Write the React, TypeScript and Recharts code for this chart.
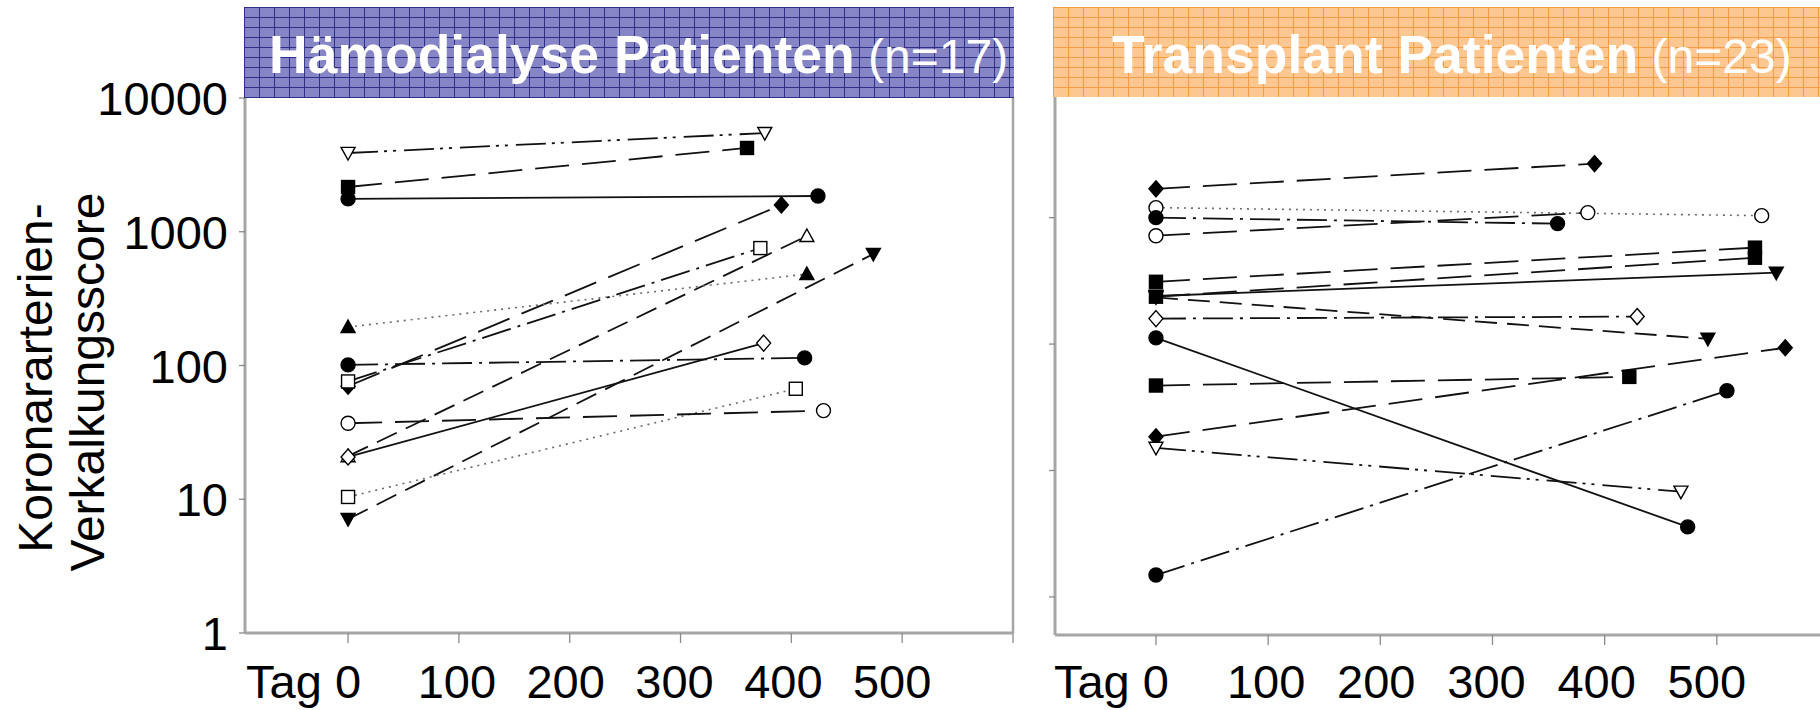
import React from 'react';
import { LineChart, Line, XAxis, YAxis, ReferenceLine } from 'recharts';

const FONT = '"Liberation Sans", Arial, Helvetica, sans-serif';

// ---------- Hämodialyse Patienten (left panel) ----------
const hdBaselineScore = [3880, 2160, 1760, 70, 21, 76, 7.1, 194, 20.7, 101, 10.4, 37];
const hdFollowUpDay = [376, 360, 424, 391, 414, 372, 474, 414, 375, 412, 404, 429];
const hdFollowUpScore = [5470, 4230, 1850, 1585, 930, 755, 682, 483, 147, 114, 67, 46];
const hdShape = ['triDown', 'square', 'circle', 'diamond', 'triUp', 'square', 'triDown', 'triUp', 'diamond', 'circle', 'square', 'circle'];
const hdFilled = [false, true, true, true, false, false, true, true, false, true, false, false];
const hdDash = ['dashDotDot', 'long', 'solid', 'long', 'dash', 'dashDot', 'dash', 'dot', 'solid', 'dashDot', 'dot', 'long'];

// ---------- Transplant Patienten (right panel) ----------
const txBaselineScore = [1690, 1200, 720, 1000, 311, 237, 240, 234, 159, 112, 47, 18.5, 15.1, 1.49];
const txFollowUpDay = [391, 540, 385, 358, 534, 534, 553, 492, 429, 474, 422, 561, 468, 509];
const txFollowUpScore = [2675, 1037, 1096, 897, 579, 482, 367, 110, 165, 3.58, 55, 93.5, 6.8, 42.7];
const txShape = ['diamond', 'circle', 'circle', 'circle', 'square', 'square', 'triDown', 'triDown', 'diamond', 'circle', 'square', 'diamond', 'triDown', 'circle'];
const txFilled = [true, false, false, true, true, true, true, true, false, true, true, true, false, true];
const txDash = ['long', 'dot', 'long', 'dashDot', 'long', 'long', 'solid', 'dash', 'dashDot', 'solid', 'long', 'long', 'dashDotDot', 'dashDot'];

// ---------- axes ----------
const xTicks = [0, 100, 200, 300, 400, 500, 600];
const xTickLabels = ['Tag 0', '100', '200', '300', '400', '500', ''];
const yTicksLeft = [1, 10, 100, 1000, 10000];
const yTickLabelsLeft = ['1', '10', '100', '1000', '10000'];
const yTicksRight = [1, 10, 100, 1000];

const titleLeft = 'Hämodialyse Patienten';
const titleLeftN = '(n=17)';
const titleRight = 'Transplant Patienten';
const titleRightN = '(n=23)';
const yTitle1 = 'Koronararterien-';
const yTitle2 = 'Verkalkungsscore';

const DASH: Record<string, string | undefined> = {
  solid: undefined,
  long: '34 13',
  dash: '22 10',
  dot: '2 5',
  dashDot: '30 7 3 7',
  dashDotDot: '30 6 3 6 3 8',
};

function buildSeries(base: number[], days: number[], follow: number[]) {
  return base.map((b, i) => [
    { x: 0, y: b },
    { x: days[i], y: follow[i] },
  ]);
}

function Marker(props: any) {
  const { cx, cy, shape, filled } = props;
  if (cx == null || cy == null || isNaN(cx) || isNaN(cy)) return <g />;
  const s = 7;
  const common = { fill: filled ? '#000' : '#fff', stroke: '#000', strokeWidth: 1.4 };
  switch (shape) {
    case 'circle':
      return <circle cx={cx} cy={cy} r={s} {...common} />;
    case 'square':
      return <rect x={cx - s + 0.5} y={cy - s + 0.5} width={2 * s - 1} height={2 * s - 1} {...common} />;
    case 'diamond':
      return <polygon points={`${cx},${cy - s - 1} ${cx + s},${cy} ${cx},${cy + s + 1} ${cx - s},${cy}`} {...common} />;
    case 'triUp':
      return <polygon points={`${cx},${cy - s} ${cx + s},${cy + s * 0.8} ${cx - s},${cy + s * 0.8}`} {...common} />;
    case 'triDown':
    default:
      return <polygon points={`${cx},${cy + s} ${cx + s},${cy - s * 0.8} ${cx - s},${cy - s * 0.8}`} {...common} />;
  }
}

function makeXTick(offset: number) {
  return (props: any) => {
    const { x, y, payload } = props;
    const idx = xTicks.indexOf(payload.value);
    const label = idx >= 0 ? xTickLabels[idx] : '';
    if (!label) return <g />;
    const shift = -payload.value / 50;
    if (payload.value === 0) {
      return (
        <text x={x + 13} y={y + offset} textAnchor="end" fontFamily={FONT} fontSize={47} fill="#000">
          {label}
        </text>
      );
    }
    return (
      <text x={x + shift} y={y + offset} textAnchor="middle" fontFamily={FONT} fontSize={47} fill="#000">
        {label}
      </text>
    );
  };
}

function LeftYTick(props: any) {
  const { x, y, payload } = props;
  const idx = yTicksLeft.indexOf(payload.value);
  return (
    <text x={x - 11} y={y + 17} textAnchor="end" fontFamily={FONT} fontSize={47} fill="#000">
      {idx >= 0 ? yTickLabelsLeft[idx] : ''}
    </text>
  );
}

function EmptyTick() {
  return <g />;
}

const AXIS_STROKE = { stroke: '#a6a6a6', strokeWidth: 3 };
const TICK_STROKE = { stroke: '#8a8a8a', strokeWidth: 1.3 };

function renderLines(series: { x: number; y: number }[][], shapes: string[], filled: boolean[], dashes: string[], prefix: string) {
  return series.map((data, i) => (
    <Line
      key={`${prefix}-${i}`}
      data={data}
      dataKey="y"
      type="linear"
      stroke={dashes[i] === 'dot' ? '#6a6a6a' : '#111'}
      strokeWidth={dashes[i] === 'dot' ? 1.6 : 1.8}
      strokeDasharray={DASH[dashes[i]]}
      isAnimationActive={false}
      activeDot={false}
      dot={(p: any) => (
        <Marker key={`${prefix}-${i}-d-${p.index}`} cx={p.cx} cy={p.cy} shape={shapes[i]} filled={filled[i]} />
      )}
    />
  ));
}

export default function App() {
  const hdSeries = buildSeries(hdBaselineScore, hdFollowUpDay, hdFollowUpScore);
  const txSeries = buildSeries(txBaselineScore, txFollowUpDay, txFollowUpScore);

  return (
    <div style={{ position: 'absolute', left: 0, top: 0, width: 1820, height: 710, overflow: 'hidden', background: '#fff' }}>
      {/* left chart */}
      <div style={{ position: 'absolute', left: 0, top: 0 }}>
        <LineChart width={1040} height={710} margin={{ top: 98, right: 27, bottom: 17, left: 145 }}>
          <XAxis
            type="number"
            dataKey="x"
            domain={[-93, 600]}
            ticks={xTicks}
            height={60}
            tickSize={10}
            tickMargin={0}
            axisLine={AXIS_STROKE}
            tickLine={TICK_STROKE}
            tick={makeXTick(55)}
            interval={0}
          />
          <YAxis
            type="number"
            scale="log"
            domain={[1, 10000]}
            ticks={yTicksLeft}
            width={100}
            tickSize={6}
            tickMargin={0}
            axisLine={AXIS_STROKE}
            tickLine={TICK_STROKE}
            tick={LeftYTick}
            interval={0}
            allowDataOverflow
          />
          <ReferenceLine x={600} stroke="#a6a6a6" strokeWidth={2.5} />
          {renderLines(hdSeries, hdShape, hdFilled, hdDash, 'hd')}
        </LineChart>
      </div>

      {/* right chart */}
      <div style={{ position: 'absolute', left: 0, top: 0 }}>
        <LineChart width={1830} height={710} margin={{ top: 97, right: 1, bottom: 15, left: 1035 }}>
          <XAxis
            type="number"
            dataKey="x"
            domain={[-90, 600]}
            ticks={xTicks}
            height={60}
            tickSize={10}
            tickMargin={0}
            axisLine={AXIS_STROKE}
            tickLine={TICK_STROKE}
            tick={makeXTick(53)}
            interval={0}
          />
          <YAxis
            type="number"
            scale="log"
            domain={[0.5, 9000]}
            ticks={yTicksRight}
            width={20}
            tickSize={6}
            tickMargin={0}
            axisLine={AXIS_STROKE}
            tickLine={TICK_STROKE}
            tick={EmptyTick}
            interval={0}
            allowDataOverflow
          />
          {renderLines(txSeries, txShape, txFilled, txDash, 'tx')}
        </LineChart>
      </div>

      {/* banners and axis title */}
      <svg width={1820} height={710} style={{ position: 'absolute', left: 0, top: 0, pointerEvents: 'none' }}>
        <defs>
          <pattern id="blueGrid" width="15" height="10" patternUnits="userSpaceOnUse" x="244" y="7">
            <rect width="15" height="10" fill="#8686c6" />
            <path d="M0 0.5 H15 M0.5 0 V10" stroke="#2f2f88" strokeWidth="1" />
          </pattern>
          <pattern id="orangeGrid" width="15" height="10" patternUnits="userSpaceOnUse" x="1053" y="7">
            <rect width="15" height="10" fill="#fcc791" />
            <path d="M0 0.5 H15 M0.5 0 V10" stroke="#f49d45" strokeWidth="1" />
          </pattern>
        </defs>
        <rect x={244} y={7} width={770} height={91} fill="url(#blueGrid)" />
        <rect x={1053} y={7} width={767} height={90} fill="url(#orangeGrid)" />
        <text x={269} y={73} fill="#fff" fontFamily={FONT}>
          <tspan fontWeight="bold" fontSize={53.5}>{titleLeft}</tspan>
          <tspan fontSize={48}> {titleLeftN}</tspan>
        </text>
        <text x={1112} y={73} fill="#fff" fontFamily={FONT}>
          <tspan fontWeight="bold" fontSize={53.5}>{titleRight}</tspan>
          <tspan fontSize={48}> {titleRightN}</tspan>
        </text>
        <g transform="translate(52,378) rotate(-90)">
          <text x={0} y={0} textAnchor="middle" fontFamily={FONT} fontSize={48} fill="#000">{yTitle1}</text>
        </g>
        <g transform="translate(104,382) rotate(-90)">
          <text x={0} y={0} textAnchor="middle" fontFamily={FONT} fontSize={48} fill="#000">{yTitle2}</text>
        </g>
      </svg>
    </div>
  );
}
